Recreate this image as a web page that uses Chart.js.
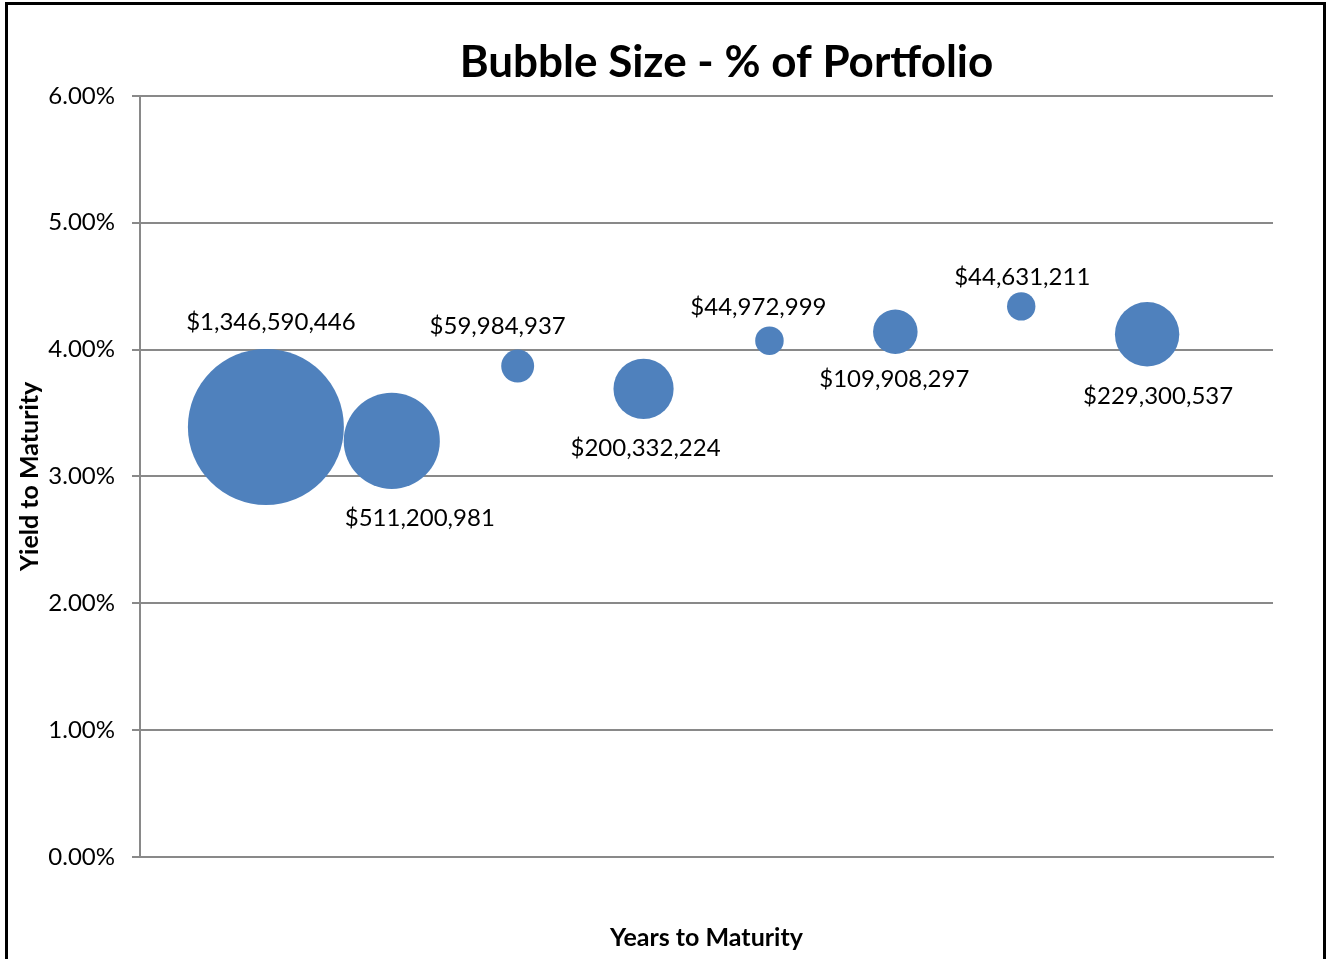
<!DOCTYPE html>
<html>
<head>
<meta charset="utf-8">
<title>Bubble Size - % of Portfolio</title>
<script src="https://cdn.jsdelivr.net/npm/chart.js@4/dist/chart.umd.min.js"></script>
<style>
    html, body { margin: 0; padding: 0; background: #fff; overflow: hidden; }
    #marco {
        position: absolute; left: 5px; top: 2px;
        width: 1315px; height: 1000px;
        border: 3px solid #000;
        pointer-events: none;
    }
    #contenedor { position: absolute; left: 0; top: 0; width: 1327px; height: 959px; }
</style>
</head>
<body>
<div id="contenedor"><canvas id="grafico"></canvas></div>
<div id="marco"></div>
<script>
// datos
const aniosMaduracion = [1, 2, 3, 4, 5, 6, 7, 8];
const rendimientos = [3.39, 3.28, 3.87, 3.69, 4.07, 4.14, 4.34, 4.12];
const montos = [1346590446, 511200981, 59984937, 200332224, 44972999, 109908297, 44631211, 229300537];
const ticksY = [0, 1, 2, 3, 4, 5, 6];

const FUENTE = "Lato, 'Open Sans', sans-serif";
const AZUL = '#4F81BD';
const GRIS = '#898989';
const RADIO_MAX = 78; // radio en px de la burbuja mas grande

const montoMax = Math.max(...montos);
const puntos = aniosMaduracion.map((x, i) => ({
    x: x,
    y: rendimientos[i],
    // tamaño por area, como en Excel
    r: RADIO_MAX * Math.sqrt(montos[i] / montoMax)
}));

function formatoDinero(v){
    return '$' + v.toLocaleString('en-US');
}

/*
    etiquetas de cada burbuja (desplazamiento en px desde el centro)
*/
const pluginEtiquetas = {
    id: 'etiquetasBurbuja',
    afterDatasetsDraw(chart, args, opts){
        const ctx = chart.ctx;
        const meta = chart.getDatasetMeta(0);
        ctx.save();
        ctx.font = opts.font;
        ctx.fillStyle = '#000';
        ctx.textAlign = 'center';
        ctx.textBaseline = 'middle';
        meta.data.forEach((el, i) => {
            const d = opts.desplazamientos[i];
            ctx.fillText(formatoDinero(montos[i]), el.x + d[0], el.y + d[1]);
        });
        ctx.restore();
    }
};

/*
    el titulo en Excel quedo corrido a la derecha del centro
*/
const pluginTitulo = {
    id: 'corrimientoTitulo',
    afterLayout(chart, args, opts){
        const t = chart.titleBlock;
        if (t) { t.left += opts.corrimiento * 2; }
    }
};

const grafico = new Chart(document.getElementById('grafico'), {
    type: 'bubble',
    data: {
        datasets: [{
            label: 'Cartera',
            data: puntos,
            backgroundColor: AZUL,
            borderColor: AZUL,
            borderWidth: 0,
            hoverRadius: 0
        }]
    },
    options: {
        responsive: true,
        maintainAspectRatio: false,
        animation: false,
        events: [],
        layout: { autoPadding: false, padding: { left: 10, right: 54, top: 0, bottom: 0 } },
        plugins: {
            legend: { display: false },
            tooltip: { enabled: false },
            title: {
                display: true,
                text: 'Bubble Size - % of Portfolio',
                color: '#000',
                font: { family: FUENTE, size: 44, weight: 'bold', lineHeight: 1.2 },
                padding: { top: 36, bottom: 7 }
            },
            corrimientoTitulo: { corrimiento: 85 },
            etiquetasBurbuja: {
                font: '24px ' + FUENTE,
                desplazamientos: [[5, -105], [28, 77], [-20, -40], [2, 59], [-11, -33], [-1, 47], [1, -29], [11, 62]]
            }
        },
        scales: {
            x: {
                type: 'linear',
                min: 0,
                max: 9,
                ticks: { display: false },
                grid: { display: false },
                border: { display: true, color: GRIS, width: 2 },
                title: {
                    display: true,
                    text: 'Years to Maturity',
                    color: '#000',
                    font: { family: FUENTE, size: 25, weight: 'bold', lineHeight: 1.2 },
                    padding: { top: 6, bottom: 6 }
                },
                afterFit(escala){ escala.height = 102; }
            },
            y: {
                min: 0,
                max: 6,
                afterBuildTicks(escala){
                    escala.ticks = ticksY.map(v => ({ value: v }));
                },
                ticks: {
                    color: '#000',
                    padding: 17,
                    font: { family: FUENTE, size: 24 },
                    callback: v => v.toFixed(2) + '%'
                },
                grid: { color: GRIS, lineWidth: 2, tickLength: 8, drawTicks: true },
                border: { display: true, color: GRIS, width: 2 },
                title: {
                    display: true,
                    text: 'Yield to Maturity',
                    color: '#000',
                    font: { family: FUENTE, size: 25, weight: 'bold', lineHeight: 1.2 },
                    padding: { top: 5, bottom: 0 }
                },
                afterFit(escala){ escala.width = 130; }
            }
        }
    },
    plugins: [pluginEtiquetas, pluginTitulo]
});
</script>
</body>
</html>
